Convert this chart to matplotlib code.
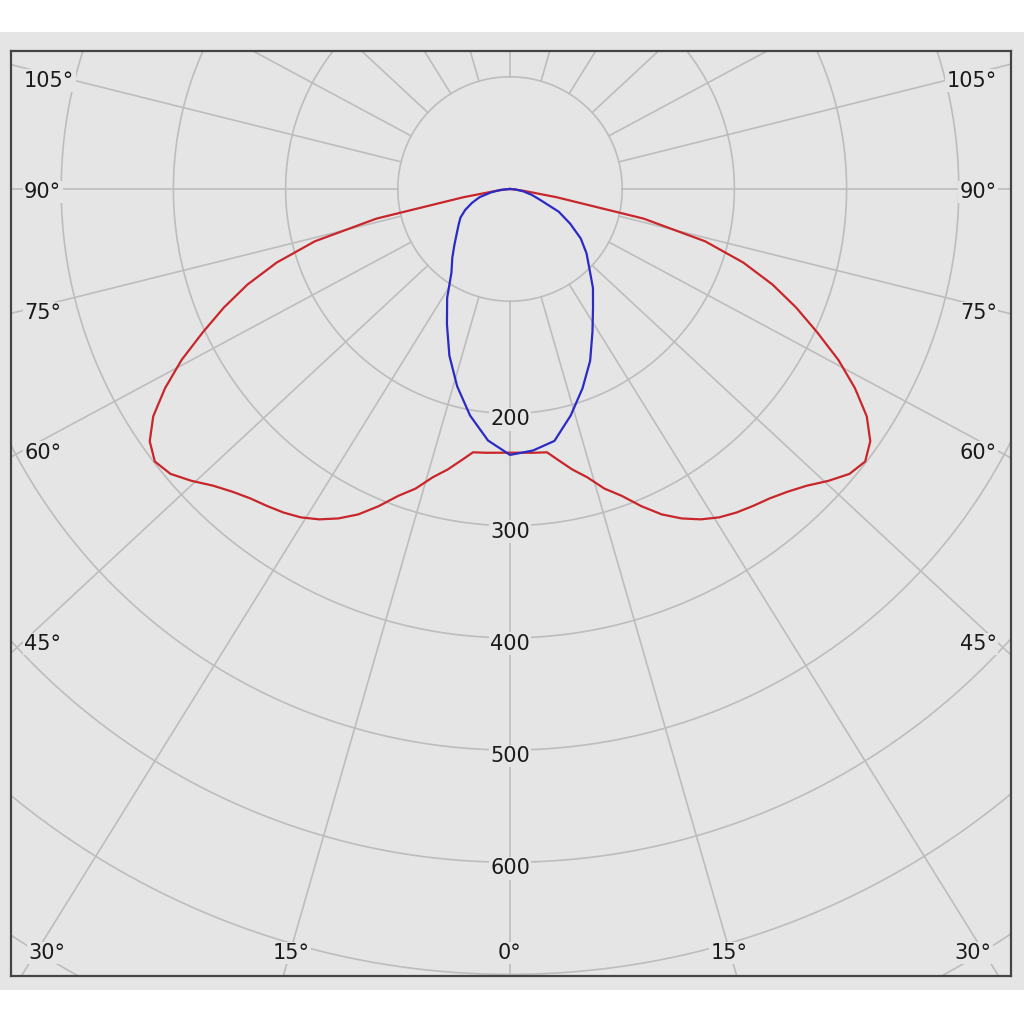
import numpy as np
import matplotlib.pyplot as plt
from matplotlib.patches import Rectangle

# luminous intensity [cd/klm], gamma in degrees from nadir
# C0-C180 plane (symmetric, one half given)
red_gamma = [0, 5, 8, 10, 12.5, 15, 17.5, 20, 22.5, 25, 27.5, 30, 32.5, 35, 37.5,
             40, 42.5, 45, 47.5, 50, 52.5, 55, 57.5, 60, 62.5, 65, 67.5, 70,
             72.5, 75, 77.5, 80, 82.5, 85, 90]
red_cd = [235, 236, 237, 245, 256, 266, 280, 291, 306, 320, 331, 340, 347, 352, 356,
          360, 366, 374, 385, 395, 399, 392, 377, 355, 330, 302, 276, 249,
          218, 180, 122, 42, 12, 3, 0]

# C90-C270 plane (negative = left side)
blue_gamma = [-90, -85, -80, -75, -70, -65, -60, -55, -50, -45, -40, -35, -30, -25,
              -20, -15, -10, -5, 0, 5, 10, 15, 20, 25, 30, 35, 40, 45, 50, 55,
              60, 65, 70, 75, 80, 85, 90]
blue_cd = [0, 8, 17, 28, 36, 44, 51, 56, 62, 70, 80, 91, 112, 133,
           158, 182, 205, 225, 237, 234, 228, 209, 189, 169, 147, 129, 115, 100, 89, 77,
           62, 48, 29, 20, 12, 5, 0]

rings = [100, 200, 300, 400, 500, 600, 700, 800]
ring_labels = [200, 300, 400, 500, 600]
ray_angles = np.arange(0, 360, 15)
side_labels = [45, 60, 75, 90, 105]
bottom_labels = [0, 15, 30]

W = 1024
px = 1.122            # pixels per cd
cx, cy = 510, 189     # pole, pixels from top-left
box = (11, 51, 1011, 976)
squash = 0.93         # rays in the original are slightly flattened
bg = '#e5e5e5'
gridc = '#bdbdbd'
txtc = '#1a1a1a'

fig = plt.figure(figsize=(10.24, 10.24), dpi=100)
fig.patch.set_facecolor('white')
fig.add_artist(Rectangle((0, 1 - 990/W), 1, (990 - 32)/W, transform=fig.transFigure,
                         fc=bg, ec='none', zorder=0))
ax = fig.add_axes([box[0]/W, 1 - box[3]/W, (box[2] - box[0])/W, (box[3] - box[1])/W])
ax.set_facecolor(bg)
ax.set_xlim((box[0] - cx)/px, (box[2] - cx)/px)
ax.set_ylim((cy - box[3])/px, (cy - box[1])/px)
ax.set_xticks([])
ax.set_yticks([])
for s in ax.spines.values():
    s.set_color('#444444')
    s.set_linewidth(1.6)

# rings
t = np.linspace(0, 2*np.pi, 721)
for r in rings:
    ax.plot(r*np.cos(t), r*np.sin(t), color=gridc, lw=1.2, zorder=1)

# rays, starting at the first ring
for a in ray_angles:
    g = np.radians(a)
    d = np.array([np.sin(g), -squash*np.cos(g)])
    d /= np.hypot(*d)
    ax.plot([rings[0]*d[0], 1500*d[0]], [rings[0]*d[1], 1500*d[1]],
            color=gridc, lw=1.2, zorder=1)

lab = dict(fontsize=15, color=txtc, zorder=3,
           bbox=dict(fc=bg, ec='none', pad=1.0))
nudge = 3/px   # text centre sits a little below the line

# angle labels along the sides
xin = (cx - 24)/px
for a in side_labels:
    g = np.radians(a)
    y = -squash*np.cos(g)/np.sin(g)*xin - nudge
    va = 'top' if a > 90 else 'center'
    ax.text((box[0] + 13 - cx)/px, y, f'{a}°', ha='left', va=va, **lab)
    ax.text((box[2] - 14 - cx)/px, y, f'{a}°', ha='right', va=va, **lab)

# angle labels along the bottom
yin = (950 - cy)/px
xmax = (cx - box[0] - 36)/px
for a in bottom_labels:
    g = np.radians(a)
    x = min(np.sin(g)/(squash*np.cos(g))*yin, xmax)
    ax.text(-x, -yin - nudge, f'{a}°', ha='center', va='center', **lab)
    if a:
        ax.text(x, -yin - nudge, f'{a}°', ha='center', va='center', **lab)

# ring values on the nadir ray
for r in ring_labels:
    ax.text(0, -r - 2*nudge, str(r), ha='center', va='center', **lab)

# curves
g = np.radians(np.concatenate([-np.array(red_gamma[::-1]), red_gamma[1:]]))
I = np.concatenate([red_cd[::-1], red_cd[1:]])
ax.plot(I*np.sin(g), -I*np.cos(g), color='#c8262a', lw=1.6, zorder=4)

g = np.radians(blue_gamma)
I = np.array(blue_cd)
ax.plot(I*np.sin(g), -I*np.cos(g), color='#2b2bc4', lw=1.6, zorder=4)

fig.savefig('out.png', dpi=100, facecolor='white')
